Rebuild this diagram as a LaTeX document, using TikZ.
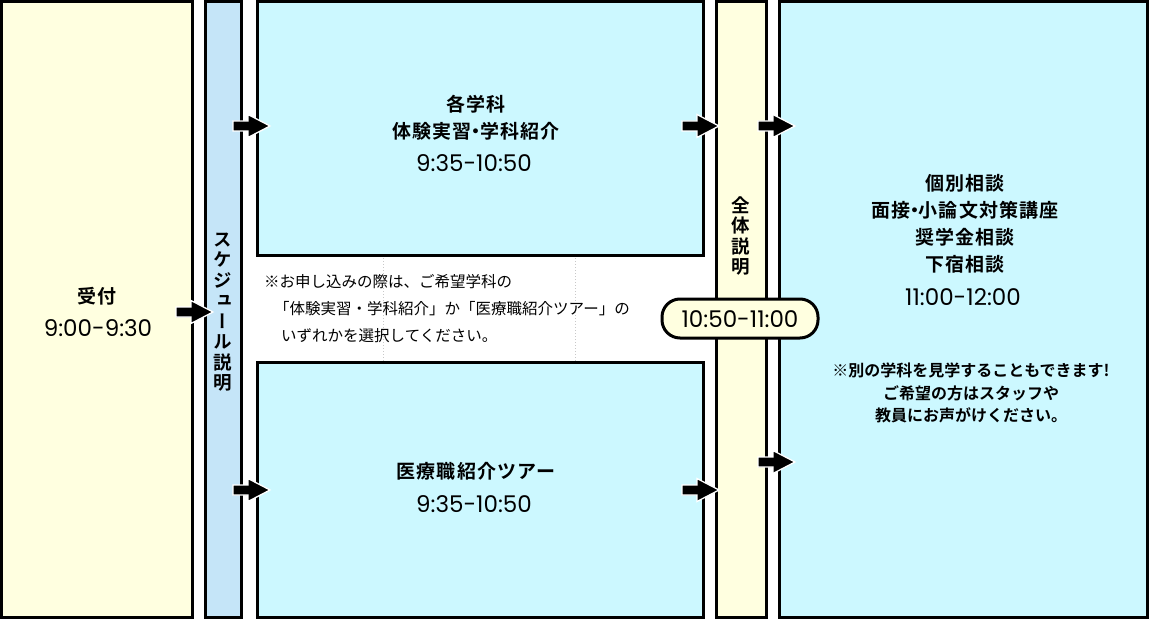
\documentclass[tikz,border=0pt]{standalone}
\usepackage{fontspec}
\usepackage{graphicx}
\setmainfont{Noto Sans CJK JP}[BoldFont={Noto Sans CJK JP Bold}]
\newfontfamily\vjp{Noto Sans CJK JP Bold}[RawFeature={+vert}]
\newfontfamily\jptitle{Noto Sans CJK JP Bold}[LetterSpace=6]
\newfontfamily\timefont{Poppins}
\newcommand{\nakaguro}{\kern-0.28em・\kern-0.28em}
\definecolor{cream}{HTML}{FFFFE0}
\definecolor{barblue}{HTML}{C5E5F8}
\definecolor{boxcyan}{HTML}{CCF8FF}
\definecolor{dotgray}{HTML}{C8C8C8}
\tikzset{
  box/.style={draw=black, line width=3pt, inner sep=0pt, outer sep=0pt},
  titletext/.style={font=\fontsize{19}{26}\selectfont\jptitle, align=center, inner sep=0pt},
  timetext/.style={font=\fontsize{23}{26}\selectfont\timefont, inner sep=0pt},
  notetext/.style={font=\fontsize{15.5}{20}\selectfont, inner sep=0pt, anchor=west},
  rnotetext/.style={font=\fontsize{16}{20}\selectfont\bfseries, inner sep=0pt},
  verttext/.style={font=\fontsize{18.5}{20.5}\selectfont\vjp, align=center, inner sep=0pt, text width=22pt},
  barrow/.pic={\filldraw[fill=black, draw=white, line width=1.3pt]
     (-37,-5) -- (-22,-5) -- (-22,-11.5) -- (0,0) -- (-22,11.5) -- (-22,5) -- (-37,5) -- cycle;}
}
\begin{document}
\begin{tikzpicture}[x=1pt,y=-1pt]
\useasboundingbox (0,0) rectangle (1150,620);
\fill[white] (0,0) rectangle (1150,620);

% dotted guide lines in the middle gap
\draw[dotgray, line width=1pt, dotted] (383,255) -- (383,362);
\draw[dotgray, line width=1pt, dotted] (575,255) -- (575,362);

% boxes
\node[box, fill=cream, minimum width=190.5pt, minimum height=615.5pt] (uketsuke) at (96.75,309.25) {};
\node[box, fill=barblue, minimum width=36pt, minimum height=615.5pt] (sched) at (223,309.25) {};
\node[box, fill=boxcyan, minimum width=446pt, minimum height=253.5pt] (top) at (480.5,128.25) {};
\node[box, fill=boxcyan, minimum width=446pt, minimum height=255pt] (bottom) at (480.5,489.5) {};
\node[box, fill=cream, minimum width=50pt, minimum height=615.5pt] (zentai) at (741,309.25) {};
\node[box, fill=boxcyan, minimum width=368pt, minimum height=615.5pt] (right) at (963,309.25) {};

% time label over the yellow bar
\node[box, fill=cream, rounded corners=18pt, minimum width=156pt, minimum height=39pt] (midtime) at (740,318.5) {};
\node[timetext] (midtimetext) at (740,319) {10:50-11:00};

% texts
\node[titletext] (ut1) at (97,296) {受付};
\node[timetext] (ut2) at (98,328) {9:00-9:30};

\node[verttext] (schedtext) at (223,312) {ス\\ケ\\ジ\\ュ\\ー\\ル\\説\\明};
\node[verttext] (zentaitext) at (741,236) {全\\体\\説\\明};

\node[titletext] (tp1) at (476,104) {各学科};
\node[titletext] (tp2) at (476,131) {体験実習\nakaguro 学科紹介};
\node[timetext] (tp3) at (474,163) {9:35-10:50};

\node[titletext] (bt1) at (476,471) {医療職紹介ツアー};
\node[timetext] (bt2) at (474,504) {9:35-10:50};

\node[notetext] (n1) at (264,282) {※お申し込みの際は、ご希望学科の};
\node[notetext] (n2) at (274,309) {「体験実習・学科紹介」か「医療職紹介ツアー」の};
\node[notetext] (n3) at (281,336) {いずれかを選択してください。};

\node[titletext] (r1) at (965,183) {個別相談};
\node[titletext] (r2) at (965,210) {面接\nakaguro 小論文対策講座};
\node[titletext] (r3) at (965,237) {奨学金相談};
\node[titletext] (r4) at (965,264) {下宿相談};
\node[timetext] (r5) at (963,297) {11:00-12:00};

\node[rnotetext] (rn1) at (971,370) {※別の学科を見学することもできます!};
\node[rnotetext] (rn2) at (971,393) {ご希望の方はスタッフや};
\node[rnotetext] (rn3) at (971,415) {教員にお声がけください。};

% block arrows (tip positions)
\pic at (213,312) {barrow};
\pic at (270,126) {barrow};
\pic at (270,490) {barrow};
\pic at (719,126) {barrow};
\pic at (719,490) {barrow};
\pic at (795,126) {barrow};
\pic at (795,462) {barrow};
\end{tikzpicture}
\end{document}
